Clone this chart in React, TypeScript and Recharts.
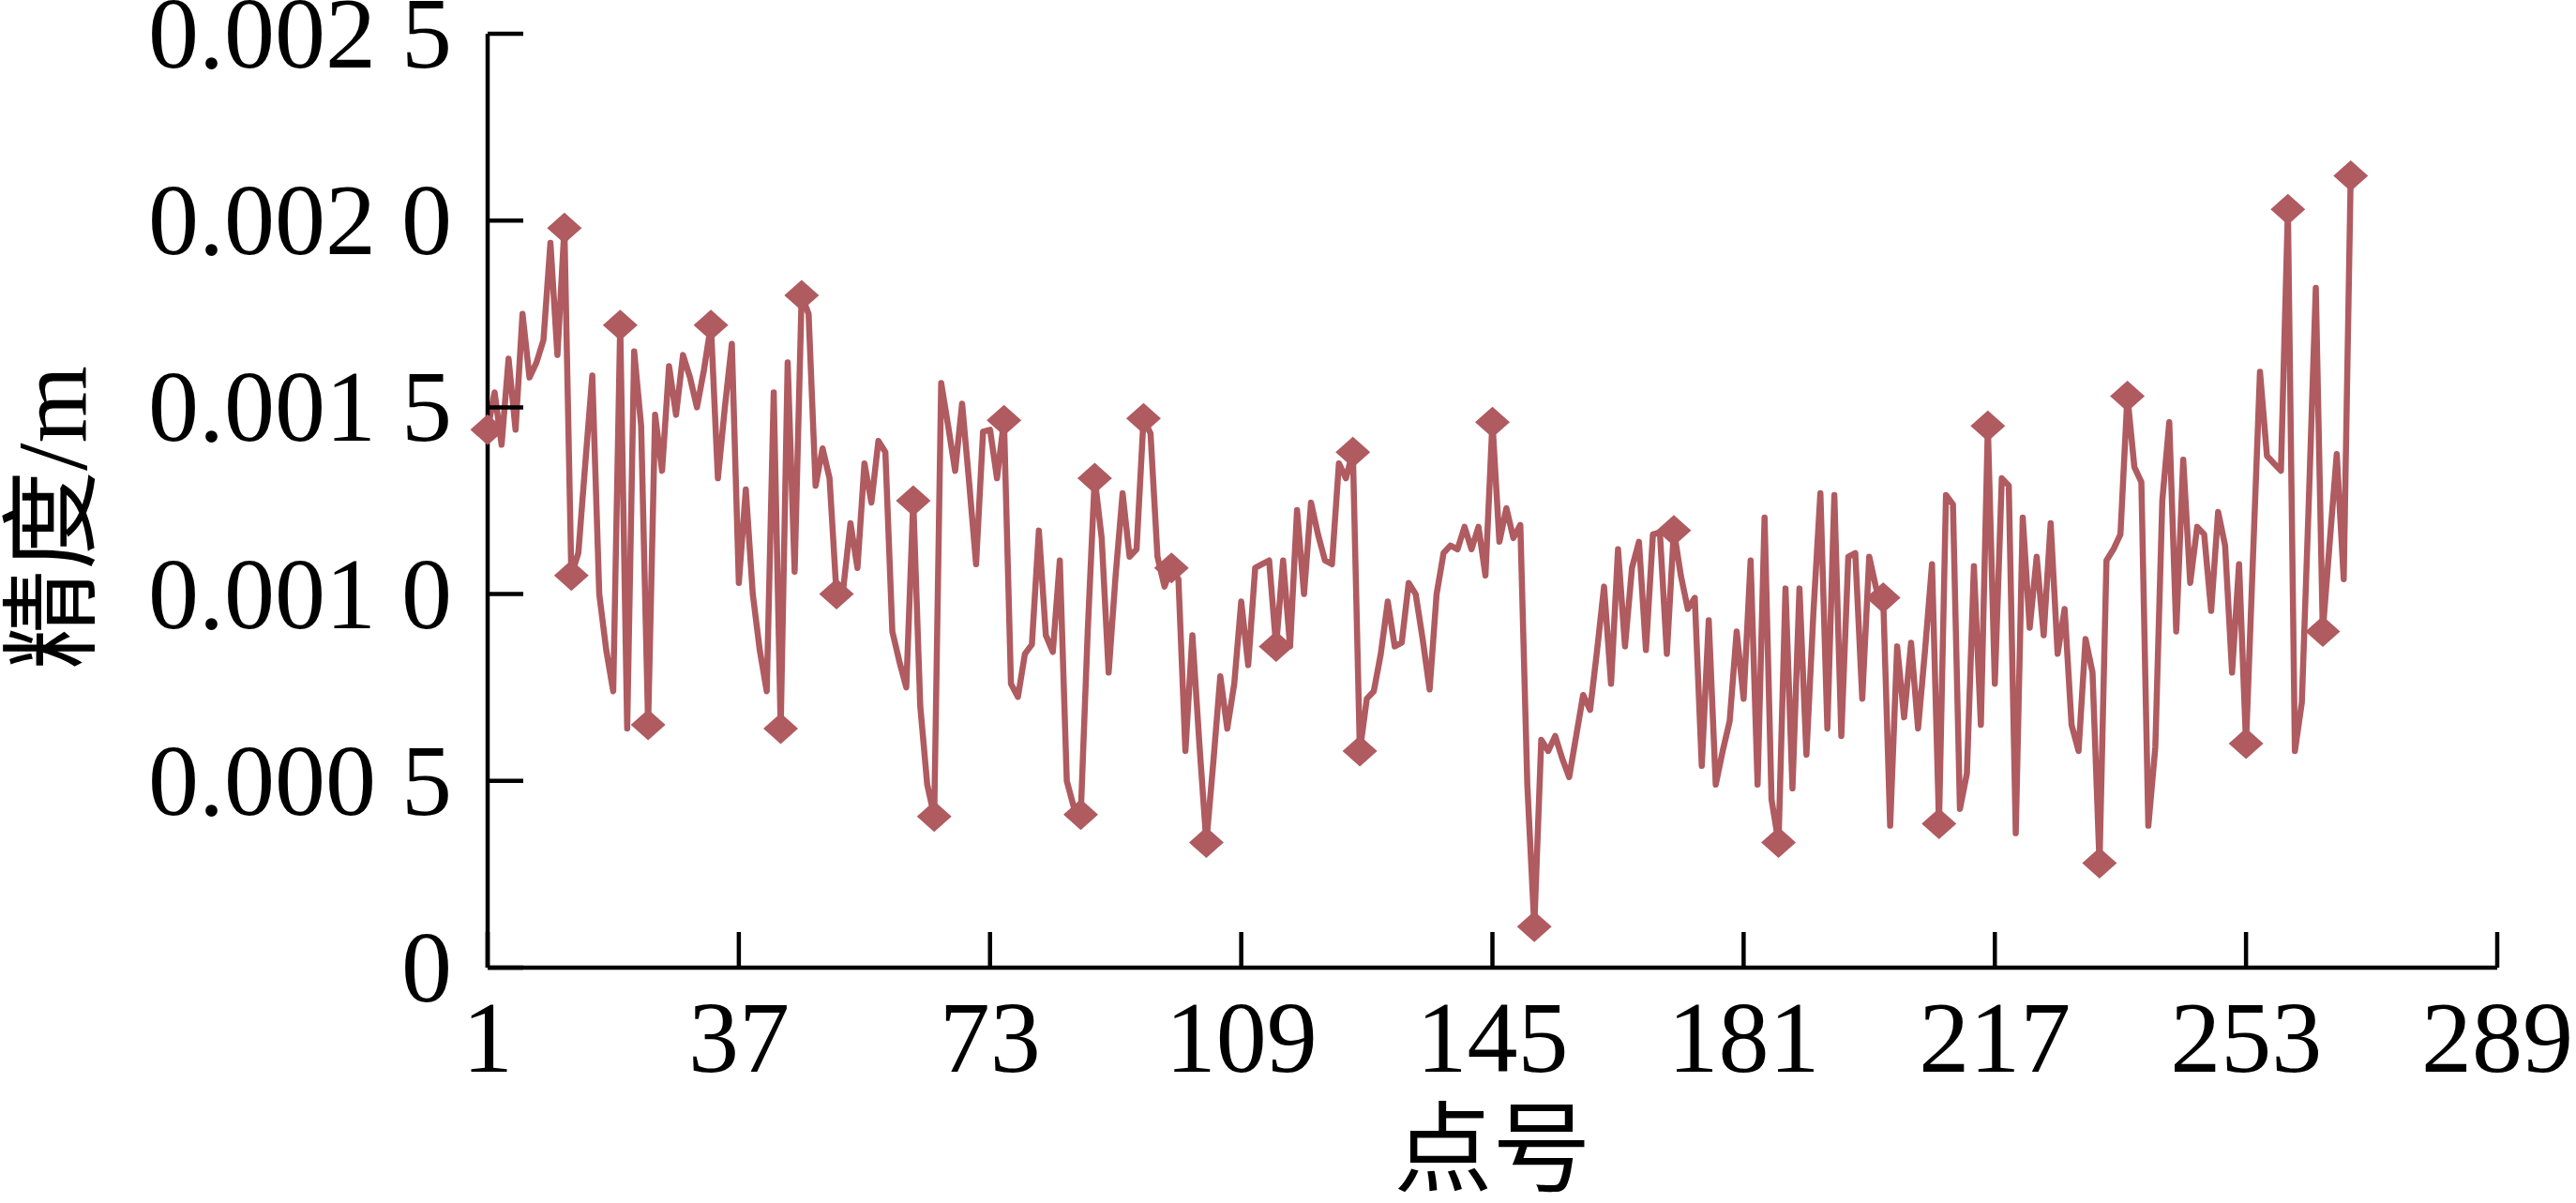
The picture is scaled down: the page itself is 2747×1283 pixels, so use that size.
import React from 'react';
import { LineChart, Line, XAxis, YAxis } from 'recharts';

// precision per survey point (unit: mm, converted to m below)
const precisionMm = [
  1.44, 1.54, 1.40, 1.63, 1.44, 1.75, 1.58, 1.62, 1.68, 1.94,
  1.64, 1.98, 1.05, 1.11, 1.35, 1.585, 1.00, 0.85, 0.74, 1.72,
  0.64, 1.65, 1.45, 0.65, 1.48, 1.33, 1.61, 1.48, 1.64, 1.58,
  1.50, 1.60, 1.72, 1.31, 1.50, 1.67, 1.03, 1.28, 1.00, 0.85,
  0.74, 1.54, 0.64, 1.62, 1.06, 1.80, 1.75, 1.29, 1.39, 1.31,
  1.00, 1.02, 1.19, 1.07, 1.35, 1.245, 1.41, 1.38, 0.90, 0.82,
  0.75, 1.25, 0.70, 0.49, 0.405, 1.565, 1.45, 1.33, 1.51, 1.30,
  1.08, 1.435, 1.44, 1.31, 1.465, 0.76, 0.725, 0.84, 0.865, 1.17,
  0.89, 0.845, 1.09, 0.50, 0.43, 0.41, 0.90, 1.31, 1.15, 0.79,
  1.05, 1.27, 1.10, 1.12, 1.47, 1.43, 1.10, 1.02, 1.07, 1.04,
  0.58, 0.89, 0.60, 0.335, 0.55, 0.78, 0.64, 0.76, 0.98, 0.81,
  1.07, 1.08, 1.09, 0.86, 1.09, 0.86, 1.225, 1.00, 1.245, 1.16,
  1.09, 1.08, 1.35, 1.31, 1.38, 0.58, 0.72, 0.74, 0.84, 0.98,
  0.86, 0.87, 1.03, 1.00, 0.88, 0.745, 1.00, 1.11, 1.13, 1.12,
  1.18, 1.12, 1.18, 1.05, 1.46, 1.14, 1.23, 1.15, 1.185, 0.49,
  0.11, 0.61, 0.58, 0.62, 0.56, 0.51, 0.62, 0.73, 0.69, 0.85,
  1.02, 0.76, 1.12, 0.86, 1.07, 1.14, 0.85, 1.16, 1.165, 0.84,
  1.17, 1.05, 0.96, 0.99, 0.54, 0.93, 0.49, 0.58, 0.66, 0.90,
  0.72, 1.09, 0.49, 1.205, 0.45, 0.335, 1.015, 0.48, 1.015, 0.57,
  0.95, 1.27, 0.64, 1.265, 0.62, 1.10, 1.11, 0.72, 1.10, 1.015,
  0.99, 0.38, 0.86, 0.67, 0.87, 0.64, 0.85, 1.08, 0.385, 1.265,
  1.24, 0.425, 0.52, 1.075, 0.65, 1.45, 0.76, 1.31, 1.29, 0.36,
  1.205, 0.91, 1.10, 0.89, 1.19, 0.84, 0.96, 0.65, 0.58, 0.88,
  0.79, 0.28, 1.09, 1.12, 1.16, 1.53, 1.34, 1.30, 0.38, 0.59,
  1.25, 1.46, 0.90, 1.36, 1.03, 1.18, 1.16, 0.955, 1.22, 1.13,
  0.79, 1.08, 0.60, 1.10, 1.595, 1.37, 1.35, 1.33, 2.03, 0.58,
  0.71, 1.25, 1.82, 0.90, 1.14, 1.375, 1.04, 2.12,
];

// point numbers that carry a diamond marker
const markedPoints = [
  1, 12, 13, 20, 24, 33, 43, 46, 51, 62, 65, 75, 86, 88, 95, 99, 104,
  114, 125, 126, 145, 151, 171, 186, 201, 209, 216, 232, 236, 253, 259, 264, 268,
];

const xTicks = [1, 37, 73, 109, 145, 181, 217, 253, 289];
const yTicks = [0, 0.0005, 0.001, 0.0015, 0.002, 0.0025];
const yTickLabels = ['0', '0.000 5', '0.001 0', '0.001 5', '0.002 0', '0.002 5'];

const data = precisionMm.map((v, i) => ({
  point: i + 1,
  value: v / 1000,
  mark: markedPoints.includes(i + 1),
}));

const W = 2747;
const H = 1283;
const PLOT_LEFT = 520;
const PLOT_TOP = 36;
const PLOT_RIGHT = 2663;
const PLOT_BOTTOM = 1032;
const TICK_LEN = 38;
const LINE_COLOR = '#AF5B60';
const SERIF = "'Liberation Serif', 'Times New Roman', serif";
const CJK = "'Liberation Serif', 'Noto Sans CJK SC', serif";
const FONT_SIZE = 108;

const XTick = (props: any) => {
  const { x, payload } = props;
  return (
    <g>
      <line x1={x} y1={PLOT_BOTTOM} x2={x} y2={PLOT_BOTTOM - TICK_LEN} stroke="#000" strokeWidth={4.5} />
      <text x={x} y={1143} textAnchor="middle" fontFamily={SERIF} fontSize={FONT_SIZE} fill="#000">
        {payload.value}
      </text>
    </g>
  );
};

const YTick = (props: any) => {
  const { y, payload } = props;
  const idx = yTicks.indexOf(payload.value);
  return (
    <g>
      <line x1={PLOT_LEFT} y1={y} x2={PLOT_LEFT + TICK_LEN} y2={y} stroke="#000" strokeWidth={4.5} />
      <text x={482} y={y + 36} textAnchor="end" fontFamily={SERIF} fontSize={FONT_SIZE} fill="#000">
        {idx >= 0 ? yTickLabels[idx] : payload.value}
      </text>
    </g>
  );
};

const XTitle = () => (
  <text x={(PLOT_LEFT + PLOT_RIGHT) / 2} y={1262} textAnchor="middle" fontFamily={CJK} fontSize={105} fill="#000">
    点号
  </text>
);

const YTitle = () => (
  <text
    x={56}
    y={552}
    transform="rotate(-90, 56, 552)"
    textAnchor="middle"
    dominantBaseline="central"
    fontFamily={CJK}
    fontSize={106}
    fill="#000"
  >
    精度/m
  </text>
);

const renderDiamond = (props: any) => {
  const { cx, cy, payload, index } = props;
  if (!payload || !payload.mark) return <g key={`dot-${index}`} />;
  const hw = 18.5;
  const hh = 16.5;
  return (
    <polygon
      key={`dot-${index}`}
      points={`${cx},${cy - hh} ${cx + hw},${cy} ${cx},${cy + hh} ${cx - hw},${cy}`}
      fill={LINE_COLOR}
    />
  );
};

const App: React.FC = () => {
  return (
    <div style={{ position: 'absolute', left: 0, top: 0, width: W, height: H, background: '#fff' }}>
      <LineChart
        width={W}
        height={H}
        data={data}
        margin={{ top: PLOT_TOP, right: W - PLOT_RIGHT, left: 0, bottom: 0 }}
      >
        <XAxis
          dataKey="point"
          type="number"
          domain={[1, 289]}
          ticks={xTicks}
          interval={0}
          height={H - PLOT_BOTTOM}
          axisLine={{ stroke: '#000', strokeWidth: 4.5 }}
          tickLine={false}
          tick={<XTick />}
          label={<XTitle />}
        />
        <YAxis
          type="number"
          domain={[0, 0.0025]}
          ticks={yTicks}
          interval={0}
          width={PLOT_LEFT}
          axisLine={{ stroke: '#000', strokeWidth: 4.5 }}
          tickLine={false}
          tick={<YTick />}
          label={<YTitle />}
        />
        <Line
          type="linear"
          dataKey="value"
          stroke={LINE_COLOR}
          strokeWidth={6.5}
          strokeLinejoin="round"
          strokeLinecap="round"
          dot={renderDiamond}
          activeDot={false}
          isAnimationActive={false}
        />
      </LineChart>
    </div>
  );
};

export default App;
